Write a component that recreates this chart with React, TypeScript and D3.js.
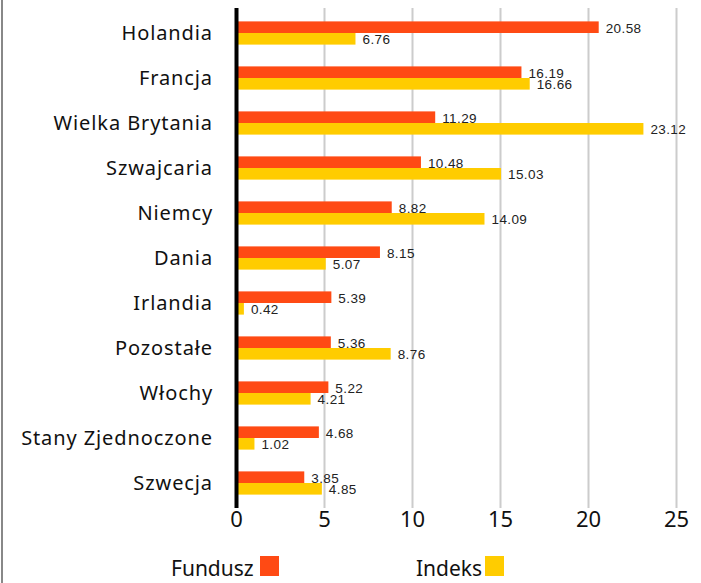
import React from "react";
import * as d3 from "d3";

const categories = [
  "Holandia",
  "Francja",
  "Wielka Brytania",
  "Szwajcaria",
  "Niemcy",
  "Dania",
  "Irlandia",
  "Pozostałe",
  "Włochy",
  "Stany Zjednoczone",
  "Szwecja",
];
const fundusz = [20.58, 16.19, 11.29, 10.48, 8.82, 8.15, 5.39, 5.36, 5.22, 4.68, 3.85];
const indeks = [6.76, 16.66, 23.12, 15.03, 14.09, 5.07, 0.42, 8.76, 4.21, 1.02, 4.85];
const seriesNames = ["Fundusz", "Indeks"];
const seriesColors = ["#FF4A14", "#FFCC00"];
const xTicks = [0, 5, 10, 15, 20, 25];

const W = 701;
const H = 583;
const FONT = "'Noto Sans', 'DejaVu Sans', sans-serif";
const VFONT = "'Liberation Sans', Arial, sans-serif";

export default function App() {
  const x = d3.scaleLinear().domain([0, 25]).range([236.5, 676.5]);
  const y = d3
    .scaleBand<string>()
    .domain(categories)
    .range([10.5, 505.5])
    .paddingInner(0.484)
    .paddingOuter(0.242);
  const inner = d3.scaleBand<string>().domain(seriesNames).range([0, y.bandwidth()]);
  const series = [fundusz, indeks];
  const gridTop = 8;
  const gridBottom = 508;

  return (
    <svg
      width={W}
      height={H}
      style={{ position: "fixed", left: 0, top: 0, background: "#fff" }}
    >
      <rect x={0} y={0} width={W} height={H} fill="#fff" />
      <line x1={2} x2={2} y1={0} y2={H} stroke="#888" strokeWidth={2} />
      {xTicks
        .filter((t) => t > 0)
        .map((t) => (
          <line
            key={"g" + t}
            x1={x(t)}
            x2={x(t)}
            y1={gridTop}
            y2={gridBottom}
            stroke="#cccccc"
            strokeWidth={2}
          />
        ))}
      {categories.map((c, i) => (
        <g key={c}>
          {series.map((s, k) => {
            const by = (y(c) as number) + (inner(seriesNames[k]) as number);
            const bh = inner.bandwidth();
            return (
              <g key={k}>
                <rect
                  x={x(0)}
                  y={by}
                  width={x(s[i]) - x(0)}
                  height={bh}
                  fill={seriesColors[k]}
                />
                <text
                  x={x(s[i]) + 7}
                  y={by + bh - 0.5}
                  fontFamily={VFONT}
                  fontSize={13.5}
                  letterSpacing={0.4}
                  fill="#222"
                >
                  {s[i].toFixed(2)}
                </text>
              </g>
            );
          })}
          <text
            x={213}
            y={(y(c) as number) + y.bandwidth() / 2 + 7}
            textAnchor="end"
            fontFamily={FONT}
            fontSize={20}
            letterSpacing={0.9}
            fill="#111"
          >
            {c}
          </text>
        </g>
      ))}
      <line
        x1={x(0)}
        x2={x(0)}
        y1={gridTop}
        y2={gridBottom}
        stroke="#000"
        strokeWidth={4}
      />
      {xTicks.map((t) => (
        <text
          key={"t" + t}
          x={x(t)}
          y={527}
          textAnchor="middle"
          fontFamily={FONT}
          fontSize={22}
          fill="#111"
        >
          {t}
        </text>
      ))}
      {[
        { tx: 171, sx: 260 },
        { tx: 416, sx: 485 },
      ].map((l, k) => (
        <g key={"l" + k}>
          <text x={l.tx} y={576} fontFamily={FONT} fontSize={21} fill="#111">
            {seriesNames[k]}
          </text>
          <rect x={l.sx} y={556} width={19} height={20} fill={seriesColors[k]} />
        </g>
      ))}
    </svg>
  );
}
